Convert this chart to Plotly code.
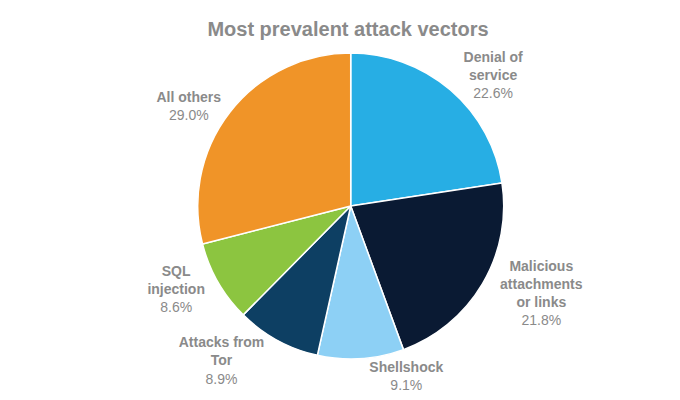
import plotly.graph_objects as go

labels = ["Denial of service", "Malicious attachments or links", "Shellshock",
          "Attacks from Tor", "SQL injection", "All others"]
display = ["<b>Denial of<br>service</b>", "<b>Malicious<br>attachments<br>or links</b>",
           "<b>Shellshock</b>", "<b>Attacks from<br>Tor</b>", "<b>SQL<br>injection</b>",
           "<b>All others</b>"]
values = [22.6, 21.8, 9.1, 8.9, 8.6, 29.0]
colors = ["#27AEE4", "#0A1A33", "#8DD0F5", "#0D3F63", "#8CC540", "#F09428"]

fig = go.Figure(go.Pie(
    labels=labels, values=values, customdata=display,
    texttemplate="%{customdata}<br>%{value:.1f}%",
    textposition="outside", textfont=dict(family="Liberation Sans", size=14, color="#8a8a8a"),
    marker=dict(colors=colors, line=dict(color="white", width=1.5)),
    sort=False, direction="clockwise", rotation=0, automargin=False,
    domain=dict(x=[0.279, 0.729], y=[0.1225, 0.8875]), showlegend=False,
    hoverinfo="label+percent"))
fig.update_layout(
    width=680, height=400, margin=dict(l=0, r=0, t=0, b=0),
    paper_bgcolor="white",
    title=dict(text="<b>Most prevalent attack vectors</b>", x=0.5, y=0.965, xanchor="center",
               font=dict(family="Liberation Sans", size=20, color="#8a8a8a")))
fig.write_html("out.html")
